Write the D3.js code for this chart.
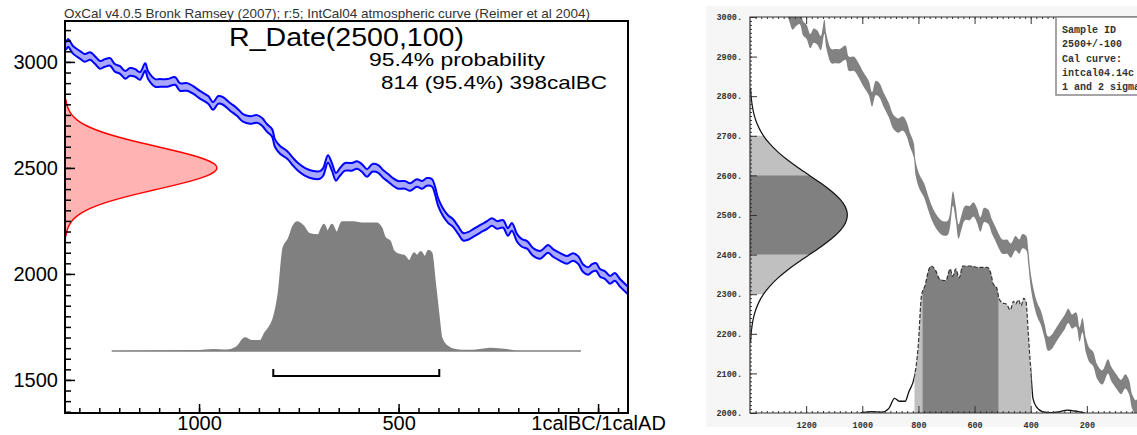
<!DOCTYPE html>
<html lang="en">
<head>
<meta charset="UTF-8">
<title>R_Date(2500,100) calibration</title>
<script src="https://d3js.org/d3.v7.min.js"></script>
<style>
  body { margin: 0; background: #fff; }
  svg { display: block; }
</style>
</head>
<body>
<script>
// IntCal04 curve (year cal BC, negative = AD ; 14C yr BP)
var curveYearBC = [1340, 1332, 1328, 1316, 1298, 1286, 1273, 1261, 1248, 1236, 1223, 1211, 1198, 1185, 1173,
    1160, 1148, 1135, 1128, 1110, 1098, 1080, 1060, 1048, 1030, 1015, 997, 977, 965, 952,
    940, 922, 905, 890, 872, 855, 842, 830, 817, 810, 797, 779, 764, 752, 734,
    714, 697, 689, 677, 667, 657, 647, 634, 617, 604, 592, 579, 566, 551, 539,
    526, 514, 501, 484, 471, 454, 441, 429, 416, 409, 401, 389, 376, 364, 351,
    338, 326, 313, 296, 278, 266, 253, 238, 226, 216, 203, 191, 178, 163, 145,
    125, 113, 95, 78, 63, 50, 38, 25, 15, 5, -5, -17, -30, -42, -55, -73, -85];
var curveC14 = [3072, 3080, 3090, 3057, 3033, 3019, 3028, 3009, 2986, 2995, 3000, 2972, 2962, 2939, 2953,
    2948, 2934, 2976, 2939, 2901, 2901, 2901, 2910, 2882, 2882, 2868, 2844, 2821, 2792, 2821,
    2816, 2788, 2764, 2736, 2726, 2731, 2717, 2689, 2665, 2618, 2585, 2561, 2528, 2505, 2481,
    2467, 2467, 2481, 2542, 2505, 2458, 2481, 2505, 2505, 2514, 2500, 2476, 2500, 2495, 2472,
    2453, 2434, 2420, 2420, 2410, 2429, 2420, 2434, 2429, 2396, 2340, 2292, 2259, 2241, 2208,
    2175, 2179, 2193, 2212, 2231, 2245, 2231, 2236, 2198, 2222, 2170, 2146, 2137, 2104, 2090,
    2118, 2099, 2080, 2066, 2080, 2066, 2028, 2014, 2028, 2033, 2005, 1995, 1972, 1986, 1958, 1925, 1905];
var curveError = 18;

// R_Date(2500,100) likelihood
var dateC14 = [2180, 2200, 2220, 2240, 2260, 2280, 2300, 2320, 2340, 2360, 2380, 2400, 2420, 2440, 2460, 2480,
    2500, 2520, 2540, 2560, 2580, 2600, 2620, 2640, 2660, 2680, 2700, 2720, 2740, 2760, 2780, 2800, 2820];
var dateDensity = [0.006, 0.011, 0.020, 0.034, 0.056, 0.089, 0.135, 0.198, 0.278, 0.375, 0.487, 0.607, 0.726, 0.835, 0.923, 0.980,
    1.000, 0.980, 0.923, 0.835, 0.726, 0.607, 0.487, 0.375, 0.278, 0.198, 0.135, 0.089, 0.056, 0.034, 0.020, 0.011, 0.006];

// calibrated probability (relative)
var calYearBC = [1219, 1006, 965, 931, 906, 885, 868, 847, 835, 814, 801, 789, 776, 764, 754,
    739, 724, 701, 695, 687, 678, 667, 655, 642, 613, 588, 555, 542, 534, 521,
    513, 501, 486, 473, 461, 454, 444, 434, 425, 417, 409, 400, 392, 379, 358,
    329, 296, 271, 250, 230, 208, 43];
var calProb = [0, 0.002, 0.01, 0.006, 0.03, 0.10, 0.08, 0.08, 0.14, 0.25, 0.45, 0.80, 0.87, 0.97, 1.00,
    0.97, 0.91, 0.90, 0.94, 0.98, 0.93, 0.98, 0.92, 1.00, 1.00, 0.99, 0.99, 0.95, 0.88, 0.85,
    0.78, 0.75, 0.74, 0.70, 0.76, 0.74, 0.77, 0.73, 0.78, 0.76, 0.55, 0.30, 0.10, 0.04, 0.01,
    0.003, 0.01, 0.02, 0.015, 0.01, 0, 0];

var range95 = [814, 398];
var range68 = [785, 515];
var sigma1 = [2400, 2600];
var sigma2 = [2300, 2700];

var leftYTicks = [1500, 2000, 2500, 3000];
var leftXTicks = [1000, 500, 0];
var rightYTicks = [2000, 2100, 2200, 2300, 2400, 2500, 2600, 2700, 2800, 2900, 3000];
var rightXTicks = [1200, 1000, 800, 600, 400, 200];
var legendLines = ["Sample ID", "2500+/-100", "Cal curve:", "intcal04.14c", "1 and 2 sigma"];

var curve = curveYearBC.map(function (d, i) { return {year: d, c14: curveC14[i]}; });
var dateLik = dateC14.map(function (d, i) { return {c14: d, p: dateDensity[i]}; });
var cal = calYearBC.map(function (d, i) { return {year: d, p: calProb[i]}; });

var svg = d3.select("body").append("svg")
    .attr("width", 1137)
    .attr("height", 435);
var defs = svg.append("defs");

function clipRect(id, x, y, w, h) {
    defs.append("clipPath").attr("id", id).append("rect")
        .attr("x", x).attr("y", y).attr("width", w).attr("height", h);
}

// ---------------- left: OxCal ----------------
var L = svg.append("g").attr("font-family", "'Liberation Sans', Arial, sans-serif");
var xL = d3.scaleLinear().domain([1336, -75]).range([65, 628]);
var yL = d3.scaleLinear().domain([1344, 3193]).range([413, 21]);
var gL = d3.scaleLinear().domain([0, 1]).range([65, 218]);
var pL = d3.scaleLinear().domain([0, 1]).range([351, 222]);
clipRect("clipL", 65, 21, 563, 392);

var inner = L.append("g").attr("clip-path", "url(#clipL)");

// radiocarbon likelihood
inner.append("path")
    .datum(dateLik)
    .attr("fill", "#ffb3b3")
    .attr("stroke", "#ff0000")
    .attr("stroke-width", 1.5)
    .attr("d", d3.area().curve(d3.curveBasis)
        .y(function (d) { return yL(d.c14); })
        .x0(gL(0))
        .x1(function (d) { return gL(d.p); }));

// calibrated distribution
inner.append("path")
    .datum(cal)
    .attr("fill", "#808080")
    .attr("stroke", "#808080")
    .attr("stroke-width", 1.5)
    .attr("d", d3.area().curve(d3.curveMonotoneX)
        .x(function (d) { return xL(d.year); })
        .y0(pL(0))
        .y1(function (d) { return pL(d.p); }));

// calibration curve band
inner.append("path")
    .datum(curve)
    .attr("fill", "#a8a8ff")
    .attr("d", d3.area().curve(d3.curveCatmullRom)
        .x(function (d) { return xL(d.year); })
        .y0(function (d) { return yL(d.c14 - curveError); })
        .y1(function (d) { return yL(d.c14 + curveError); }));
[-1, 1].forEach(function (s) {
    inner.append("path")
        .datum(curve)
        .attr("fill", "none")
        .attr("stroke", "#0000ff")
        .attr("stroke-width", 2)
        .attr("d", d3.line().curve(d3.curveCatmullRom)
            .x(function (d) { return xL(d.year); })
            .y(function (d) { return yL(d.c14 + s * curveError); }));
});

// 95.4% range bracket
L.append("path")
    .attr("fill", "none")
    .attr("stroke", "#000")
    .attr("stroke-width", 2)
    .attr("d", "M" + xL(range95[0]) + ",369V376H" + xL(range95[1]) + "V369");

// axes (ticks inside the frame)
function styleAxis(g, size) {
    g.select(".domain").remove();
    g.selectAll(".tick line").attr("stroke", "#000").attr("stroke-width", 1.5);
    g.selectAll("text").attr("font-size", size).attr("fill", "#000")
        .attr("font-family", "'Liberation Sans', Arial, sans-serif");
}
L.append("g").attr("transform", "translate(65,0)")
    .call(d3.axisLeft(yL).tickValues(d3.range(1350, 3200, 50)).tickSize(-6).tickFormat(""))
    .call(styleAxis, 20);
L.append("g").attr("transform", "translate(65,0)")
    .call(d3.axisLeft(yL).tickValues(leftYTicks).tickSize(-10).tickPadding(7).tickFormat(d3.format("d")))
    .call(styleAxis, 20);
L.append("g").attr("transform", "translate(0,413)")
    .call(d3.axisBottom(xL).tickValues(d3.range(-50, 1336, 50)).tickSize(-5).tickFormat(""))
    .call(styleAxis, 20);
L.append("g").attr("transform", "translate(0,413)")
    .call(d3.axisBottom(xL).tickValues(leftXTicks).tickSize(-9).tickPadding(3)
        .tickFormat(function (d) { return d === 0 ? "1calBC/1calAD" : String(d); }))
    .call(styleAxis, 20);

L.append("rect")
    .attr("x", 65).attr("y", 21).attr("width", 563).attr("height", 392)
    .attr("fill", "none").attr("stroke", "#000").attr("stroke-width", 2);

L.append("text").attr("x", 64).attr("y", 18).attr("font-size", 13).attr("fill", "#333")
    .attr("textLength", 526).attr("lengthAdjust", "spacingAndGlyphs")
    .text("OxCal v4.0.5 Bronk Ramsey (2007); r:5; IntCal04 atmospheric curve (Reimer et al 2004)");
L.append("text").attr("x", 229).attr("y", 46).attr("font-size", 26)
    .attr("textLength", 235).attr("lengthAdjust", "spacingAndGlyphs")
    .text("R_Date(2500,100)");
L.append("text").attr("x", 369).attr("y", 66).attr("font-size", 19)
    .attr("textLength", 176).attr("lengthAdjust", "spacingAndGlyphs")
    .text("95.4% probability");
L.append("text").attr("x", 381).attr("y", 89).attr("font-size", 19)
    .attr("textLength", 226).attr("lengthAdjust", "spacingAndGlyphs")
    .text("814 (95.4%) 398calBC");

// ---------------- right: CALIB ----------------
var R = svg.append("g");
var xR = d3.scaleLinear().domain([1400, 0]).range([750, 1143]);
var yR = d3.scaleLinear().domain([2000, 3000]).range([413, 17]);
var gR = d3.scaleLinear().domain([0, 1]).range([750, 848]);
var pR = d3.scaleLinear().domain([0, 1]).range([413, 266]);
var monoFont = "'Liberation Mono', 'Courier New', monospace";

R.append("rect").attr("x", 706).attr("y", 6).attr("width", 431).attr("height", 421).attr("fill", "#f6f6f6");
R.append("rect").attr("x", 750).attr("y", 17).attr("width", 393).attr("height", 396).attr("fill", "#fff");
clipRect("clipR", 750, 17, 393, 396);
clipRect("clipS1", 750, yR(sigma1[1]), 200, yR(sigma1[0]) - yR(sigma1[1]));
clipRect("clipS2", 750, yR(sigma2[1]), 200, yR(sigma2[0]) - yR(sigma2[1]));
clipRect("clip95", xR(range95[0]), 200, xR(range95[1]) - xR(range95[0]), 220);
clipRect("clip68", xR(range68[0]), 200, xR(range68[1]) - xR(range68[0]), 220);
clipRect("clipOutA", 700, 200, xR(range95[0]) - 700, 220);
clipRect("clipOutB", xR(range95[1]), 200, 300, 220);

var innerR = R.append("g").attr("clip-path", "url(#clipR)");

// calibration curve (grey band)
innerR.append("path")
    .datum(curve)
    .attr("fill", "#828282")
    .attr("d", d3.area().curve(d3.curveCatmullRom)
        .x(function (d) { return xR(d.year); })
        .y0(function (d) { return yR(d.c14 - curveError); })
        .y1(function (d) { return yR(d.c14 + curveError); }));

// radiocarbon likelihood with 1 and 2 sigma shading
var likArea = d3.area().curve(d3.curveBasis)
    .y(function (d) { return yR(d.c14); })
    .x0(gR(0))
    .x1(function (d) { return gR(d.p); });
innerR.append("g").attr("clip-path", "url(#clipS2)")
    .append("path").datum(dateLik).attr("fill", "#c0c0c0").attr("d", likArea);
innerR.append("g").attr("clip-path", "url(#clipS1)")
    .append("path").datum(dateLik).attr("fill", "#808080").attr("d", likArea);
innerR.append("path").datum(dateLik)
    .attr("fill", "none").attr("stroke", "#111").attr("stroke-width", 1.2)
    .attr("d", d3.line().curve(d3.curveBasis)
        .y(function (d) { return yR(d.c14); })
        .x(function (d) { return gR(d.p); }));

// calibrated distribution, 2 sigma light, 1 sigma dark
var calR = cal.filter(function (d) { return d.year <= 1006 && d.year >= 208; });
var calArea = d3.area().curve(d3.curveMonotoneX)
    .x(function (d) { return xR(d.year); })
    .y0(pR(0))
    .y1(function (d) { return pR(d.p); });
var calLine = d3.line().curve(d3.curveMonotoneX)
    .x(function (d) { return xR(d.year); })
    .y(function (d) { return pR(d.p); });
innerR.append("g").attr("clip-path", "url(#clip95)")
    .append("path").datum(calR).attr("fill", "#c0c0c0").attr("d", calArea);
innerR.append("g").attr("clip-path", "url(#clip68)")
    .append("path").datum(calR).attr("fill", "#808080").attr("d", calArea);
innerR.append("g").attr("clip-path", "url(#clip95)")
    .append("path").datum(calR).attr("fill", "none").attr("stroke", "#333")
    .attr("stroke-width", 1.2).attr("stroke-dasharray", "4,2").attr("d", calLine);
["clipOutA", "clipOutB"].forEach(function (id) {
    innerR.append("g").attr("clip-path", "url(#" + id + ")")
        .append("path").datum(calR).attr("fill", "none").attr("stroke", "#111")
        .attr("stroke-width", 1.3).attr("d", calLine);
});

// axes
function styleAxisR(g) {
    g.select(".domain").remove();
    g.selectAll(".tick line").attr("stroke", "#333").attr("stroke-width", 1);
    g.selectAll("text").attr("font-size", 8.5).attr("fill", "#333")
        .attr("font-family", monoFont).attr("font-weight", "bold");
}
R.append("g").attr("transform", "translate(750,0)")
    .call(d3.axisLeft(yR).tickValues(d3.range(2000, 3001, 10)).tickSize(-2).tickFormat(""))
    .call(styleAxisR);
R.append("g").attr("transform", "translate(750,0)")
    .call(d3.axisLeft(yR).tickValues(rightYTicks).tickSize(-7).tickPadding(8)
        .tickFormat(function (d) { return d + "."; }))
    .call(styleAxisR);
R.append("g").attr("transform", "translate(0,413)")
    .call(d3.axisBottom(xR).tickValues(d3.range(20, 1400, 20)).tickSize(-2).tickFormat(""))
    .call(styleAxisR);
R.append("g").attr("transform", "translate(0,413)")
    .call(d3.axisBottom(xR).tickValues(rightXTicks).tickSize(-7).tickPadding(9).tickFormat(d3.format("d")))
    .call(styleAxisR);
R.append("g").attr("transform", "translate(0,17)")
    .call(d3.axisTop(xR).tickValues(d3.range(20, 1400, 20)).tickSize(-2).tickFormat(""))
    .call(styleAxisR);
R.append("g").attr("transform", "translate(0,17)")
    .call(d3.axisTop(xR).tickValues(rightXTicks).tickSize(-7).tickFormat(""))
    .call(styleAxisR);

R.append("path")
    .attr("fill", "none").attr("stroke", "#333").attr("stroke-width", 1.2)
    .attr("d", "M1137,17H750V413H1137");

// legend box
R.append("rect").attr("x", 1056).attr("y", 17).attr("width", 100).attr("height", 78)
    .attr("fill", "#fff").attr("stroke", "#888").attr("stroke-width", 1.5);
R.selectAll(".leg").data(legendLines).enter().append("text")
    .attr("x", 1062)
    .attr("y", function (d, i) { return 33 + i * 14.3; })
    .attr("font-family", monoFont).attr("font-weight", "bold")
    .attr("font-size", 10).attr("fill", "#333")
    .text(function (d) { return d; });
</script>
</body>
</html>
